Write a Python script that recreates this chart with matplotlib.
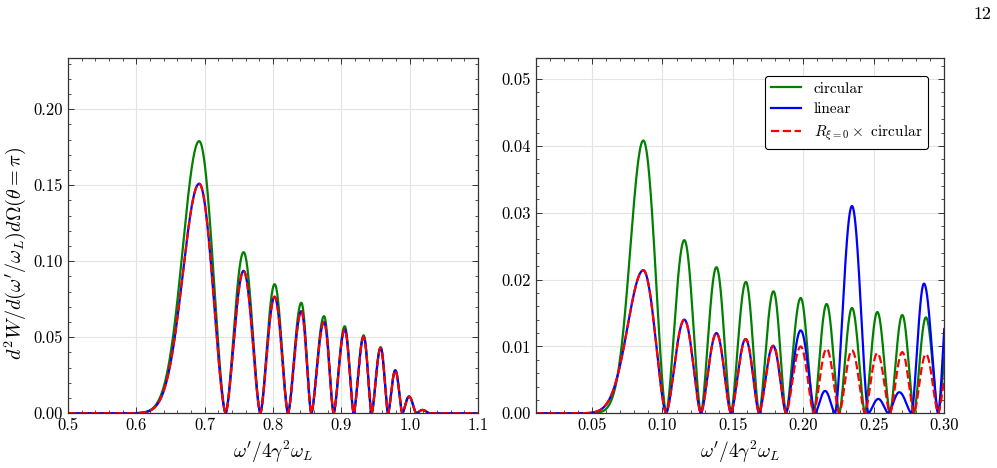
import numpy as np
import matplotlib
matplotlib.use("Agg")
from matplotlib import pyplot as plt
from matplotlib.ticker import MultipleLocator

plt.rcParams["font.family"] = "serif"
plt.rcParams["font.serif"] = ["cmr10"]
plt.rcParams["mathtext.fontset"] = "cm"
plt.rcParams["axes.formatter.use_mathtext"] = True
plt.rcParams["font.size"] = 12

# left panel: lobes (zero after each peak, peak position, peak height)
left_peaks = [0.692, 0.757, 0.8024, 0.8415, 0.8747, 0.905, 0.9327, 0.9576, 0.979, 0.9991, 1.0186]
left_zeros = [0.7307, 0.7815, 0.822, 0.8561, 0.8888, 0.9181, 0.9444, 0.9684, 0.9893, 1.0098, 1.0293]
left_circ = [0.179, 0.106, 0.0849, 0.0727, 0.0639, 0.0573, 0.0513, 0.0435, 0.0284, 0.0111, 0.0022]
left_lin = [0.151, 0.0937, 0.0767, 0.0672, 0.0602, 0.0551, 0.0502, 0.043, 0.0282, 0.011, 0.0022]
left_rcirc = [0.151, 0.0937, 0.0767, 0.0672, 0.0602, 0.0551, 0.0502, 0.043, 0.0282, 0.011, 0.0022]
left_rise = 0.034

# right panel
right_peaks = [0.0864, 0.1155, 0.1383, 0.1592, 0.1788, 0.1981, 0.2165, 0.2345, 0.2525, 0.2702, 0.287, 0.304]
right_zeros = [0.1026, 0.1273, 0.1486, 0.1686, 0.1877, 0.2073, 0.2255, 0.2437, 0.2615, 0.2785, 0.2957, 0.312]
right_circ = [0.0408, 0.0259, 0.02185, 0.01965, 0.01825, 0.01725, 0.01635, 0.01575, 0.01515, 0.0147, 0.01435, 0.0140]
right_rcirc = [0.0214, 0.0140, 0.0120, 0.0111, 0.0101, 0.0100, 0.00965, 0.0094, 0.0090, 0.00915, 0.00885, 0.0088]
right_lin_peaks = [0.0864, 0.1155, 0.1383, 0.159, 0.1785, 0.1981, 0.2154, 0.2345, 0.2532, 0.2681, 0.2856, 0.304]
right_lin_zeros = [0.1026, 0.1273, 0.1486, 0.1686, 0.1877, 0.2083, 0.2225, 0.2461, 0.2603, 0.2768, 0.2957, 0.312]
right_lin = [0.0214, 0.0140, 0.0120, 0.0111, 0.0101, 0.0124, 0.00335, 0.0310, 0.00215, 0.00315, 0.0194, 0.021]
right_rise_circ = 0.013
right_rise_lin = 0.0158

Q = 1.6  # hump exponent


def lobes(x, peaks, zeros, heights, rise):
    # first lobe rises like a gaussian, the rest are humps between zeros
    y = np.zeros_like(x)
    for i, (p, r, h) in enumerate(zip(peaks, zeros, heights)):
        right = (x >= p) & (x <= r)
        y[right] = h * np.abs(np.cos(0.5 * np.pi * (x[right] - p) / (r - p))) ** Q
        left = x < p
        if i == 0:
            y[left] = h * np.exp(-((x[left] - p) / rise) ** 2)
        else:
            l = zeros[i - 1]
            m = left & (x >= l)
            y[m] = h * np.abs(np.sin(0.5 * np.pi * (x[m] - l) / (p - l))) ** Q
    return y


def style(ax):
    ax.tick_params(which="both", direction="in", top=True, right=True,
                   labelsize=12, color="#333333")
    ax.tick_params(which="major", length=4, width=0.7)
    ax.tick_params(which="minor", length=2, width=0.6)
    ax.grid(True, which="major", color="#e3e3e3", lw=0.8)
    ax.set_axisbelow(True)
    for s in ax.spines.values():
        s.set_linewidth(0.9)
        s.set_color("#333333")


fig = plt.figure(figsize=(9.97, 4.68), dpi=100)
ax1 = fig.add_axes([0.0682, 0.1169, 0.4112, 0.7585])
ax2 = fig.add_axes([0.5373, 0.1169, 0.4098, 0.7585])

x1 = np.linspace(0.5, 1.1, 3000)
ax1.plot(x1, lobes(x1, left_peaks, left_zeros, left_circ, left_rise), color="green", lw=1.6)
ax1.plot(x1, lobes(x1, left_peaks, left_zeros, left_lin, left_rise), color="blue", lw=1.6)
ax1.plot(x1, lobes(x1, left_peaks, left_zeros, left_rcirc, left_rise), color="red", lw=1.6, ls="--")
ax1.set_xlim(0.5, 1.1)
ax1.set_ylim(0, 0.2335)
ax1.xaxis.set_major_locator(MultipleLocator(0.1))
ax1.xaxis.set_minor_locator(MultipleLocator(0.02))
ax1.yaxis.set_major_locator(MultipleLocator(0.05))
ax1.yaxis.set_minor_locator(MultipleLocator(0.01))
ax1.xaxis.set_major_formatter(lambda v, pos: "%.1f" % v)
ax1.yaxis.set_major_formatter(lambda v, pos: "%.2f" % v)
ax1.set_xlabel(r"$\omega'/4\gamma^2\omega_L$", fontsize=14)
ax1.set_ylabel(r"$d^2W/d(\omega'/\omega_L)d\Omega(\theta=\pi)$", fontsize=14.5)
ax1.yaxis.set_label_coords(-0.097, 0.4515)
style(ax1)

x2 = np.linspace(0.01, 0.30, 3000)
ax2.plot(x2, lobes(x2, right_peaks, right_zeros, right_circ, right_rise_circ), color="green", lw=1.6, label="circular")
ax2.plot(x2, lobes(x2, right_lin_peaks, right_lin_zeros, right_lin, right_rise_lin), color="blue", lw=1.6, label="linear")
ax2.plot(x2, lobes(x2, right_peaks, right_zeros, right_rcirc, right_rise_lin), color="red", lw=1.6, ls="--",
         label=r"$R_{\xi=0}\times$ circular")
ax2.set_xlim(0.01, 0.30)
ax2.set_ylim(0, 0.0531)
ax2.xaxis.set_major_locator(MultipleLocator(0.05))
ax2.xaxis.set_minor_locator(MultipleLocator(0.01))
ax2.yaxis.set_major_locator(MultipleLocator(0.01))
ax2.yaxis.set_minor_locator(MultipleLocator(0.002))
ax2.xaxis.set_major_formatter(lambda v, pos: "%.2f" % v)
ax2.yaxis.set_major_formatter(lambda v, pos: "%.2f" % v)
ax2.set_xlabel(r"$\omega'/4\gamma^2\omega_L$", fontsize=14)
style(ax2)
leg = ax2.legend(loc="upper right", bbox_to_anchor=(0.961, 0.951), borderaxespad=0,
                 fontsize=11, labelspacing=0.45, frameon=True, fancybox=True,
                 edgecolor="black", framealpha=1)
leg.get_frame().set_linewidth(0.8)

fig.text(0.994, 0.97, "12", ha="right", va="center", fontsize=13)

fig.savefig("out.png", dpi=100)
